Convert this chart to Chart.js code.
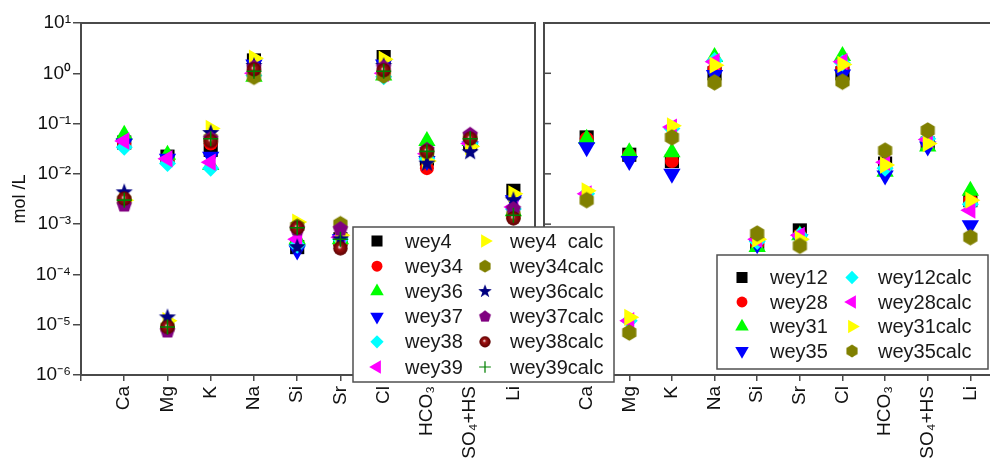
<!DOCTYPE html>
<html>
<head>
<meta charset="utf-8">
<script src="https://cdn.jsdelivr.net/npm/chart.js@4.4.1/dist/chart.umd.min.js"></script>
<style>
html, body { margin: 0; padding: 0; background: #fff; overflow: hidden; }
#wrap { position: relative; width: 990px; height: 458px; overflow: hidden; }
#chart-left, #chart-right { position: absolute; left: 0; top: 0; }
</style>
</head>
<body>
<div id="wrap">
    <canvas id="chart-left" width="545" height="458"></canvas>
    <canvas id="chart-right" width="1023" height="458"></canvas>
</div>
<script>
// categories on the x axis (same for both panels)
var categories = ['Ca', 'Mg', 'K', 'Na', 'Si', 'Sr', 'Cl', 'HCO₃', 'SO₄+HS', 'Li'];
// decade ticks of the log axis, mol/L
var yTicks = [1e-6, 1e-5, 1e-4, 1e-3, 1e-2, 1e-1, 1, 10];

// left panel, measured
var wey4  = [0.042, 0.022, 0.030, 1.8, 0.00035, 0.0005, 2.1, 0.020, 0.040, 0.0046];
var wey34 = [0.040, 0.020, 0.040, 1.1, 0.0004, 0.0004, 1.0, 0.013, 0.040, 0.0014];
var wey36 = [0.060, 0.024, 0.015, 0.85, 0.0005, 0.0005, 0.9, 0.045, 0.045, 0.0018];
var wey37 = [0.040, 0.020, 0.022, 1.5, 0.0003, 0.0005, 1.5, 0.018, 0.035, 0.0030];
var wey38 = [0.034, 0.016, 0.013, 0.9, 0.00038, 0.0005, 0.85, 0.020, 0.040, 0.0020];
var wey39 = [0.045, 0.020, 0.017, 1.0, 0.0005, 0.00055, 1.0, 0.025, 0.040, 0.0022];
// left panel, calculated
var wey4calc  = [0.0030, 1.2e-5, 0.080, 2.0, 0.0011, 0.0006, 1.9, 0.018, 0.035, 0.0040];
var wey34calc = [0.0030, 9e-6, 0.050, 0.85, 0.0009, 0.0010, 0.9, 0.027, 0.055, 0.0015];
var wey36calc = [0.0043, 1.4e-5, 0.065, 1.4, 0.00035, 0.0005, 1.4, 0.016, 0.027, 0.0030];
var wey37calc = [0.0024, 7.5e-6, 0.050, 1.3, 0.0008, 0.0008, 1.3, 0.030, 0.060, 0.0020];
var wey38calc = [0.0032, 9e-6, 0.045, 1.2, 0.00085, 0.00033, 1.15, 0.028, 0.050, 0.0013];
var wey39calc = [0.0030, 9e-6, 0.050, 1.1, 0.00085, 0.0005, 1.1, 0.028, 0.050, 0.0015];

// right panel
var wey12 = [0.053, 0.024, 0.018, 1.0, 0.0004, 0.00075, 1.0, 0.016, 0.040, 0.0030];
var wey28 = [0.050, 0.024, 0.018, 1.2, 0.0004, 0.0006, 1.2, 0.013, 0.040, 0.0030];
var wey31 = [0.050, 0.027, 0.027, 2.1, 0.00035, 0.0006, 2.2, 0.011, 0.035, 0.0046];
var wey35 = [0.034, 0.018, 0.010, 0.92, 0.0004, 0.0005, 0.95, 0.0093, 0.035, 0.00095];
var wey12calc = [0.0040, 1.2e-5, 0.080, 1.8, 0.00045, 0.0006, 1.6, 0.013, 0.050, 0.0025];
var wey28calc = [0.0040, 1.2e-5, 0.085, 1.7, 0.0005, 0.0006, 1.7, 0.017, 0.048, 0.0019];
var wey31calc = [0.0046, 1.4e-5, 0.090, 1.45, 0.0005, 0.0005, 1.5, 0.015, 0.040, 0.0030];
var wey35calc = [0.0030, 7e-6, 0.053, 0.66, 0.00065, 0.00037, 0.68, 0.029, 0.073, 0.00055];

var fontFamily = '"Liberation Sans", Arial, sans-serif';
var frameColor = '#4a4a4a';

// small canvases for the marker shapes chart.js has no built-in for
function shapeCanvas(r, draw) {
    var s = Math.ceil(r * 2 + 4);
    var c = document.createElement('canvas');
    c.width = s;
    c.height = s;
    var g = c.getContext('2d');
    g.translate(s / 2, s / 2);
    draw(g, r);
    return c;
}

function regular(g, n, r, r2) {
    g.beginPath();
    var steps = r2 ? n * 2 : n;
    for (var k = 0; k < steps; k++) {
        var a = -Math.PI / 2 + k * 2 * Math.PI / steps;
        var rr = (r2 && k % 2) ? r2 : r;
        g.lineTo(Math.cos(a) * rr, Math.sin(a) * rr);
    }
    g.closePath();
}

var hexagon = shapeCanvas(8.2, function(g, r) {
    regular(g, 6, r);
    g.fillStyle = '#808000';
    g.fill();
});
var star = shapeCanvas(9, function(g, r) {
    regular(g, 5, r, r * 0.42);
    g.fillStyle = '#000080';
    g.fill();
});
var pentagon = shapeCanvas(8, function(g, r) {
    regular(g, 5, r);
    g.fillStyle = '#800080';
    g.fill();
});
var sphere = shapeCanvas(7.2, function(g, r) {
    var grad = g.createRadialGradient(-1, -1.5, 0.3, 0, 0, r);
    grad.addColorStop(0, '#f2e0e0');
    grad.addColorStop(0.3, '#a01414');
    grad.addColorStop(1, '#5c0000');
    g.beginPath();
    g.arc(0, 0, r, 0, Math.PI * 2);
    g.fillStyle = grad;
    g.fill();
});

var markers = {
    square:   {style: 'rect', r: 10, rot: 0, color: '#000000'},
    circle:   {style: 'circle', r: 7, rot: 0, color: '#ff0000'},
    up:       {style: 'triangle', r: 10, rot: 0, color: '#00ff00'},
    down:     {style: 'triangle', r: 10, rot: 180, color: '#0000ff'},
    diamond:  {style: 'rectRot', r: 8.5, rot: 0, color: '#00ffff'},
    left:     {style: 'triangle', r: 10, rot: -90, color: '#ff00ff'},
    right:    {style: 'triangle', r: 10, rot: 90, color: '#ffff00'},
    hexagon:  {style: hexagon, r: 8, rot: 0, color: '#808000'},
    star:     {style: star, r: 8, rot: 0, color: '#000080'},
    pentagon: {style: pentagon, r: 8, rot: 0, color: '#800080'},
    sphere:   {style: sphere, r: 7, rot: 0, color: '#800000'},
    plus:     {style: 'cross', r: 7.5, rot: 0, color: '#008000', bw: 1.6}
};

var leftSeries = [
    ['wey4', wey4, 'square'], ['wey34', wey34, 'circle'], ['wey36', wey36, 'up'],
    ['wey37', wey37, 'down'], ['wey38', wey38, 'diamond'], ['wey39', wey39, 'left'],
    ['wey4  calc', wey4calc, 'right'], ['wey34calc', wey34calc, 'hexagon'], ['wey36calc', wey36calc, 'star'],
    ['wey37calc', wey37calc, 'pentagon'], ['wey38calc', wey38calc, 'sphere'], ['wey39calc', wey39calc, 'plus']
];
var rightSeries = [
    ['wey12', wey12, 'square'], ['wey28', wey28, 'circle'], ['wey31', wey31, 'up'], ['wey35', wey35, 'down'],
    ['wey12calc', wey12calc, 'diamond'], ['wey28calc', wey28calc, 'left'],
    ['wey31calc', wey31calc, 'right'], ['wey35calc', wey35calc, 'hexagon']
];

function buildDatasets(series) {
    return series.map(function(s, i) {
        var m = markers[s[2]];
        return {
            label: s[0],
            data: s[1].map(function(v, k) { return {x: k + 1, y: v}; }),
            showLine: false,
            pointStyle: m.style,
            pointRadius: m.r,
            pointHoverRadius: m.r,
            pointRotation: m.rot,
            backgroundColor: m.color,
            borderColor: m.color,
            borderWidth: m.bw || 0,
            pointBorderWidth: m.bw || 0,
            order: -i
        };
    });
}

function supNum(n) {
    var map = {'-': '⁻', '0': '⁰', '1': '¹', '2': '²', '3': '³', '4': '⁴', '5': '⁵', '6': '⁶', '7': '⁷', '8': '⁸', '9': '⁹'};
    return String(n).split('').map(function(c) { return map[c]; }).join('');
}

function xScale(max) {
    return {
        type: 'linear',
        min: 0,
        max: max,
        afterBuildTicks: function(scale) {
            var t = [];
            for (var i = 0; i <= categories.length; i++) t.push({value: i});
            scale.ticks = t;
        },
        afterFit: function(scale) { scale.height = 83; },
        grid: {drawOnChartArea: false, drawTicks: true, tickLength: 6, color: frameColor, lineWidth: 1.5},
        border: {display: true, color: frameColor, width: 2},
        ticks: {
            autoSkip: false,
            minRotation: 90,
            maxRotation: 90,
            padding: 5,
            color: '#111',
            font: {family: fontFamily, size: 19},
            callback: function(v) { return categories[v - 1] || ''; }
        }
    };
}

function yScale(show) {
    return {
        type: 'logarithmic',
        min: 1e-6,
        max: 10,
        display: show,
        afterBuildTicks: function(scale) {
            scale.ticks = yTicks.map(function(v) { return {value: v}; });
        },
        afterFit: function(scale) { if (show) scale.width = 81; },
        grid: {drawOnChartArea: false, drawTicks: true, tickLength: 8, color: frameColor, lineWidth: 1.5},
        border: {display: true, color: frameColor, width: 2},
        title: {display: true, text: 'mol /L', color: '#111', font: {family: fontFamily, size: 18}, padding: {top: 9, bottom: 0}},
        ticks: {
            padding: 2,
            color: '#111',
            font: {family: fontFamily, size: 19},
            callback: function(v) { return '10' + supNum(Math.round(Math.log10(v))); }
        }
    };
}

var leftLegendBox = {x: 353, y: 227, w: 261, h: 155, rowY: 241, rowH: 25.2, markX: [377, 485], textX: [405, 510]};
var rightLegendBox = {x: 717, y: 255, w: 271, h: 114, rowY: 277.5, rowH: 24.5, markX: [742, 852], textX: [770, 878]};

function drawLegend(ctx, datasets, box) {
    var rows = Math.ceil(datasets.length / 2);
    ctx.save();
    ctx.fillStyle = '#fff';
    ctx.fillRect(box.x, box.y, box.w, box.h);
    ctx.strokeStyle = '#505050';
    ctx.lineWidth = 1.5;
    ctx.strokeRect(box.x, box.y, box.w, box.h);
    ctx.font = '20px ' + fontFamily;
    ctx.textBaseline = 'middle';
    datasets.forEach(function(ds, i) {
        var col = Math.floor(i / rows), row = i % rows;
        var cy = box.rowY + row * box.rowH;
        ctx.save();
        ctx.translate(box.markX[col], cy);
        ctx.scale(0.78, 0.78);
        ctx.fillStyle = ds.backgroundColor;
        ctx.strokeStyle = ds.borderColor;
        ctx.lineWidth = ds.borderWidth;
        Chart.helpers.drawPoint(ctx, {
            pointStyle: ds.pointStyle, radius: ds.pointRadius,
            rotation: ds.pointRotation, borderWidth: ds.borderWidth
        }, 0, 0);
        ctx.restore();
        ctx.fillStyle = '#1a1a1a';
        ctx.fillText(ds.label, box.textX[col], cy + 1);
    });
    ctx.restore();
}

var leftFrame = {
    id: 'leftFrame',
    afterDraw: function(chart) {
        var a = chart.chartArea, ctx = chart.ctx;
        ctx.save();
        ctx.strokeStyle = frameColor;
        ctx.lineWidth = 2;
        ctx.strokeRect(a.left, a.top, a.right - a.left, a.bottom - a.top);
        ctx.restore();
    }
};

var leftChart, rightChart;

var rightOverlay = {
    id: 'rightOverlay',
    afterDraw: function(chart) {
        var a = chart.chartArea, ctx = chart.ctx, ys = chart.scales.y;
        ctx.save();
        ctx.strokeStyle = frameColor;
        ctx.lineWidth = 2;
        ctx.beginPath();
        ctx.moveTo(a.right, a.top);
        ctx.lineTo(a.left, a.top);
        ctx.lineTo(a.left, a.bottom);
        ctx.stroke();
        // inward ticks on the right panel's axis
        ctx.lineWidth = 1.5;
        yTicks.forEach(function(v) {
            var py = ys.getPixelForValue(v);
            ctx.beginPath();
            ctx.moveTo(a.left, py);
            ctx.lineTo(a.left + 7, py);
            ctx.stroke();
        });
        ctx.restore();
        drawLegend(ctx, leftChart.data.datasets, leftLegendBox);
        drawLegend(ctx, chart.data.datasets, rightLegendBox);
    }
};

function chartOptions(isLeft) {
    return {
        responsive: false,
        animation: false,
        devicePixelRatio: 1,
        layout: {padding: isLeft ? {top: 23, right: 7, left: 0, bottom: 0} : {top: 23, right: 0, left: 544, bottom: 0}},
        plugins: {legend: {display: false}, tooltip: {enabled: false}},
        scales: {
            x: xScale(isLeft ? 10.5 : 11),
            y: yScale(isLeft)
        }
    };
}

leftChart = new Chart(document.getElementById('chart-left'), {
    type: 'line',
    data: {datasets: buildDatasets(leftSeries)},
    options: chartOptions(true),
    plugins: [leftFrame]
});

rightChart = new Chart(document.getElementById('chart-right'), {
    type: 'line',
    data: {datasets: buildDatasets(rightSeries)},
    options: chartOptions(false),
    plugins: [rightOverlay]
});
</script>
</body>
</html>
